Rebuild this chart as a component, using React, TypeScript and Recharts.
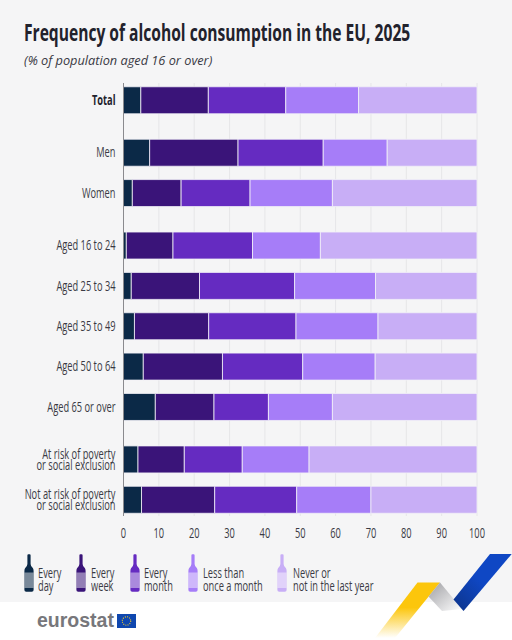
import React from 'react';
import { BarChart, Bar, XAxis, YAxis, CartesianGrid } from 'recharts';

// no condensed face is installed, so Open Sans gets squeezed horizontally
const labelFont = '"Open Sans", sans-serif';
const squeeze = 0.64;

const categories = [
  'Total',
  'Men',
  'Women',
  'Aged 16 to 24',
  'Aged 25 to 34',
  'Aged 35 to 49',
  'Aged 50 to 64',
  'Aged 65 or over',
  'At risk of poverty|or social exclusion',
  'Not at risk of poverty|or social exclusion',
];
// rows of the chart fall into four blocks with a wider gap between them
const blocks = [0, 1, 1, 2, 2, 2, 2, 2, 3, 3];

const everyDay = [4.9, 7.4, 2.5, 0.8, 2.2, 3.1, 5.6, 9.0, 4.1, 5.1];
const everyWeek = [19.1, 25.0, 13.8, 13.2, 19.3, 21.0, 22.4, 16.6, 13.1, 20.7];
const everyMonth = [21.9, 24.1, 19.5, 22.5, 26.9, 24.7, 22.7, 15.4, 16.4, 23.2];
const lessThanMonthly = [20.6, 18.1, 23.3, 19.2, 22.9, 23.2, 20.5, 18.1, 18.9, 21.0];
const never = [33.5, 25.4, 40.9, 44.3, 28.7, 28.0, 28.8, 40.9, 47.5, 30.0];

const xTicks = [0, 10, 20, 30, 40, 50, 60, 70, 80, 90, 100];

const series = [
  { key: 'everyDay', values: everyDay, color: '#0b2947', label: ['Every', 'day'], bottle: 28.5, text: 37.5 },
  { key: 'everyWeek', values: everyWeek, color: '#3a1479', label: ['Every', 'week'], bottle: 81, text: 91 },
  { key: 'everyMonth', values: everyMonth, color: '#652bc1', label: ['Every', 'month'], bottle: 134.5, text: 144 },
  { key: 'lessThanMonthly', values: lessThanMonthly, color: '#a67df8', label: ['Less than', 'once a month'], bottle: 193, text: 203 },
  { key: 'never', values: never, color: '#c8aef6', label: ['Never or', 'not in the last year'], bottle: 282, text: 293 },
];

const rows = categories.map((name, i) => {
  const row: Record<string, number | string> = { name, row: i + blocks[i] * 0.3 };
  series.forEach((s) => {
    row[s.key] = s.values[i];
  });
  return row;
});
const rowTicks = rows.map((r) => r.row as number);

const CategoryTick = ({ x, y, payload }: any) => {
  const found = rows.find((r) => Math.abs((r.row as number) - payload.value) < 0.001);
  const name = found ? (found.name as string) : '';
  const lines = name.split('|');
  return (
    <text
      transform={`translate(${x} ${y}) scale(${squeeze} 1)`}
      textAnchor="end"
      fontFamily={labelFont}
      fontSize={14.5}
      fontWeight={name === 'Total' ? 700 : 400}
      fill={name === 'Total' ? '#22222c' : '#3a3a44'}
    >
      {lines.map((line, i) => (
        <tspan key={i} x={0} dy={i === 0 ? (lines.length > 1 ? -0.5 : 5) : 11.5}>
          {line}
        </tspan>
      ))}
    </text>
  );
};

const ValueTick = ({ x, y, payload }: any) => (
  <text
    transform={`translate(${x} ${y + 14}) scale(${squeeze} 1)`}
    textAnchor="middle"
    fontFamily={labelFont}
    fontSize={14.5}
    fill="#3a3a44"
  >
    {payload.value}
  </text>
);

const Bottle = ({ x, color }: { x: number; color: string }) => (
  <svg style={{ position: 'absolute', left: x - 5, top: 554 }} width={10} height={38} viewBox="0 0 10 38">
    <path
      d="M3.4 1.2 Q3.4 0.2 4.4 0.2 H5.6 Q6.6 0.2 6.6 1.2 V10 Q6.6 12 8.8 14 Q9.6 15 9.6 17 V36 Q9.6 37.8 7.8 37.8 H2.2 Q0.4 37.8 0.4 36 V17 Q0.4 15 1.2 14 Q3.4 12 3.4 10 Z"
      fill={color}
    />
    <rect x={0.4} y={18.5} width={9.2} height={15.5} fill="#fff" fillOpacity={0.45} />
  </svg>
);

const App = () => (
  <div style={{ position: 'absolute', left: 0, top: 0, width: 512, height: 640, background: '#fff', overflow: 'hidden' }}>
    <div style={{ position: 'absolute', left: 0, top: 0, width: 512, height: 602, background: '#f5f5f6' }} />
    <div style={{ position: 'absolute', left: 24, top: 17, fontFamily: labelFont, fontWeight: 700, fontSize: 22.5, color: '#22222c', whiteSpace: 'nowrap', transform: 'scaleX(0.693)', transformOrigin: 'left top' }}>
      Frequency of alcohol consumption in the EU, 2025
    </div>
    <div style={{ position: 'absolute', left: 24, top: 51, fontFamily: labelFont, fontStyle: 'italic', fontSize: 12.75, color: '#3a3a44', whiteSpace: 'nowrap' }}>
      (% of population aged 16 or over)
    </div>

    <div style={{ position: 'absolute', left: 0, top: 0 }}>
      <BarChart
        width={512}
        height={640}
        layout="vertical"
        data={rows}
        barSize={27}
        margin={{ top: 83, right: 35, bottom: 0, left: 0 }}
      >
        <CartesianGrid horizontal={false} stroke="#e6e6e8" strokeWidth={1} />
        <XAxis
          type="number"
          domain={[0, 100]}
          ticks={xTicks}
          interval={0}
          height={124}
          axisLine={false}
          tickLine={false}
          tick={<ValueTick />}
        />
        <YAxis
          type="number"
          dataKey="row"
          domain={[-0.42, 10.31]}
          ticks={rowTicks}
          interval={0}
          width={123.5}
          axisLine={{ stroke: '#8a8a8e', strokeWidth: 1 }}
          tickLine={false}
          tickMargin={2}
          tick={<CategoryTick />}
        />
        {series.map((s) => (
          <Bar
            key={s.key}
            dataKey={s.key}
            stackId="a"
            fill={s.color}
            stroke="#f3f1f8"
            strokeWidth={0.8}
            isAnimationActive={false}
          />
        ))}
      </BarChart>
    </div>

    {series.map((s) => (
      <React.Fragment key={s.key}>
        <Bottle x={s.bottle} color={s.color} />
        <div style={{ position: 'absolute', left: s.text, top: 567, fontFamily: labelFont, fontSize: 14.5, lineHeight: '12.5px', color: '#3a3a44', whiteSpace: 'nowrap', transform: `scaleX(${squeeze})`, transformOrigin: 'left top' }}>
          {s.label[0]}
          <br />
          {s.label[1]}
        </div>
      </React.Fragment>
    ))}

    <div style={{ position: 'absolute', left: 37, top: 609, fontFamily: '"Liberation Sans", sans-serif', fontWeight: 700, fontSize: 19.5, lineHeight: '23px', color: '#77777b', whiteSpace: 'nowrap' }}>
      eurostat
    </div>
    <svg style={{ position: 'absolute', left: 0, top: 0 }} width={512} height={640}>
      <defs>
        <linearGradient id="yellowFade" x1="0" y1="0" x2="0" y2="1">
          <stop offset="0.45" stopColor="#fcc60c" />
          <stop offset="1" stopColor="#fcc60c" stopOpacity={0} />
        </linearGradient>
        <linearGradient id="greyFade" x1="0" y1="0" x2="1" y2="1">
          <stop offset="0.1" stopColor="#a8a8ac" />
          <stop offset="1" stopColor="#ffffff" />
        </linearGradient>
        <linearGradient id="blueFade" x1="1" y1="0" x2="0" y2="1">
          <stop offset="0.5" stopColor="#0f47c4" />
          <stop offset="1" stopColor="#0d3489" />
        </linearGradient>
      </defs>
      <polygon points="417.5,582.5 440,582.5 395,638 375,638" fill="url(#yellowFade)" />
      <polygon points="440,582.5 462,609 442,611 428.5,596.5" fill="url(#greyFade)" />
      <polygon points="490,554 511.7,554 463.5,611 453.5,599.5" fill="url(#blueFade)" />
      <rect x={117} y={614} width={19} height={14} fill="#0f47af" />
      <circle cx={126.5} cy={621} r={4.2} fill="none" stroke="#f5cc28" strokeWidth={1.1} strokeDasharray="1 1.2" />
    </svg>
  </div>
);

export default App;
